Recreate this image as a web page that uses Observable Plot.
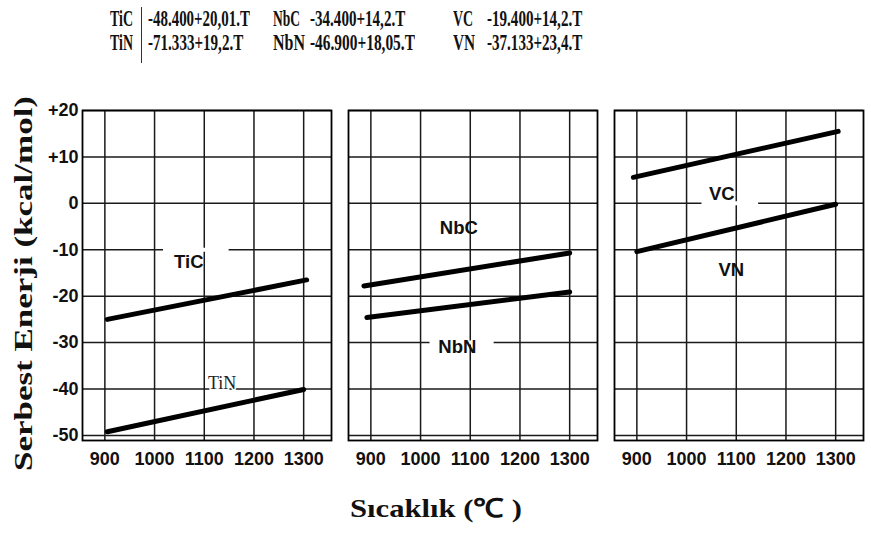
<!DOCTYPE html>
<html><head><meta charset="utf-8">
<script src="https://cdn.jsdelivr.net/npm/d3@7"></script>
<script src="https://cdn.jsdelivr.net/npm/@observablehq/plot@0.6"></script>
<style>
body{margin:0;background:#fff;}
#wrap{position:relative;width:871px;height:534px;overflow:hidden;}
#wrap svg{position:absolute;left:0;top:0;}
.t{position:absolute;white-space:nowrap;color:#111;line-height:1;}
</style></head><body><div id="wrap"></div>
<script>
// ---- data ----
const panels = ["Ti", "Nb", "V"];
const compounds = ["TiC", "TiN", "NbC", "NbN", "VC", "VN"];
const compoundPanel = ["Ti", "Ti", "Nb", "Nb", "V", "V"];
const startT = [905, 905, 886, 892, 893, 900];
const startG = [-25.0, -49.2, -17.8, -24.6, 5.6, -10.4];
const endT = [1306, 1300, 1300, 1300, 1305, 1300];
const endG = [-16.5, -40.1, -10.7, -19.1, 15.5, -0.2];
const labelT = [1069, 1136, 1077, 1074, 1071, 1090];
const labelG = [-12.7, -38.8, -5.4, -30.9, 1.9, -14.4];
const xTicks = [900, 1000, 1100, 1200, 1300];
const yTicks = [20, 10, 0, -10, -20, -30, -40, -50];
// grid interruptions behind labels
const gapPanel = ["Ti", "Nb", "V"];
const gapG = [-10, -30, 0];
const gapT1 = [1018, 1019, 1031];
const gapT2 = [1150, 1148, 1145];
// header equations
const eqRow1Names = ["TiC", "NbC", "VC"];
const eqRow1Text = ["-48.400+20,01.T", "-34.400+14,2.T", "-19.400+14,2.T"];
const eqRow2Names = ["TiN", "NbN", "VN"];
const eqRow2Text = ["-71.333+19,2.T", "-46.900+18,05.T", "-37.133+23,4.T"];
const yTitle = "Serbest Enerji (kcal/mol)";
const xTitle = "Sıcaklık (℃ )";

// ---- tables ----
const lineRows = compounds.flatMap((c, i) => [
  {c, panel: compoundPanel[i], T: startT[i], G: startG[i]},
  {c, panel: compoundPanel[i], T: endT[i], G: endG[i]}
]);
const labelRows = compounds.map((c, i) => ({c, panel: compoundPanel[i], T: labelT[i], G: labelG[i]}));
const gapRows = gapPanel.map((p, i) => ({panel: p, G: gapG[i], T1: gapT1[i], T2: gapT2[i]}));

const chart = Plot.plot({
  width: 871, height: 534,
  marginTop: 110, marginBottom: 94, marginLeft: 81, marginRight: 8,
  style: {fontFamily: "'Liberation Sans', Arial, sans-serif", fontSize: "18px", fontWeight: "bold", color: "#111", background: "transparent"},
  fx: {domain: panels, padding: 0.064, axis: null},
  x: {domain: [855, 1356], ticks: xTicks, tickSize: 0, tickPadding: 12, tickFormat: d => String(d), label: null},
  y: {domain: [-51.1, 20], ticks: yTicks, tickSize: 0, tickPadding: 4, tickFormat: d => d > 0 ? "+" + d : String(d), label: null},
  marks: [
    Plot.ruleX(xTicks, {stroke: "#1a1a1a", strokeWidth: 1.5}),
    Plot.ruleY(yTicks, {stroke: "#1a1a1a", strokeWidth: 1.5}),
    Plot.ruleY(gapRows, {fx: "panel", y: "G", x1: "T1", x2: "T2", stroke: "#fff", strokeWidth: 4}),
    Plot.frame({stroke: "#000", strokeWidth: 1.8}),
    Plot.line(lineRows, {fx: "panel", x: "T", y: "G", z: "c", stroke: "#000", strokeWidth: 5, strokeLinecap: "round"}),
    Plot.text(labelRows.filter(d => d.c !== "TiN"), {fx: "panel", x: "T", y: "G", text: "c", fill: "#111", fontSize: 18.5, fontWeight: "bold", fontFamily: "'Liberation Sans', Arial, sans-serif"}),
    Plot.text(labelRows.filter(d => d.c === "TiN"), {fx: "panel", x: "T", y: "G", text: "c", fill: "#222", fontSize: 18, fontWeight: "normal", fontFamily: "'Liberation Serif', serif", stroke: "#fff", strokeWidth: 3})
  ]
});
const wrap = document.getElementById("wrap");
wrap.appendChild(chart);

// ---- HTML text (header, titles) ----
function put(text, opts) {
  const el = document.createElement("div");
  el.className = "t";
  el.textContent = text;
  el.style.fontFamily = opts.family || "'Liberation Serif', serif";
  el.style.fontSize = opts.size + "px";
  el.style.fontWeight = opts.weight || "bold";
  wrap.appendChild(el);
  const w = el.offsetWidth, h = el.offsetHeight;
  const k = opts.width ? opts.width / w : 1;
  if (opts.rotate) {
    el.style.left = (opts.cx - w / 2) + "px";
    el.style.top = (opts.cy - h / 2) + "px";
    el.style.transform = `rotate(-90deg) scaleX(${k})`;
  } else if (opts.cx != null) {
    el.style.left = (opts.cx - w / 2) + "px";
    el.style.top = (opts.cy - h / 2) + "px";
    el.style.transform = `scaleX(${k})`;
  } else {
    el.style.left = opts.left + "px";
    el.style.top = (opts.cy - h / 2) + "px";
    el.style.transformOrigin = "0 50%";
    el.style.transform = `scaleX(${k})`;
  }
  return el;
}
const nameLeft = [110, 273, 453];
const eqLeft = [148, 310, 487];
const nameW1 = [23, 27, 20], eqW1 = [102, 95, 95];
const nameW2 = [23, 32, 22], eqW2 = [95, 105, 95];
eqRow1Names.forEach((n, i) => {
  put(n, {left: nameLeft[i], cy: 18, size: 23, width: nameW1[i]});
  put(eqRow1Text[i], {left: eqLeft[i], cy: 18, size: 23, width: eqW1[i]});
});
eqRow2Names.forEach((n, i) => {
  put(n, {left: nameLeft[i], cy: 42, size: 23, width: nameW2[i]});
  put(eqRow2Text[i], {left: eqLeft[i], cy: 42, size: 23, width: eqW2[i]});
});
const sep = document.createElement("div");
sep.style.cssText = "position:absolute;left:141px;top:7px;width:1.3px;height:56px;background:#333;";
wrap.appendChild(sep);
put(yTitle, {cx: 23, cy: 283, size: 25, width: 375, rotate: true});
put(xTitle, {cx: 436, cy: 509, size: 26, width: 172});
</script></body></html>
